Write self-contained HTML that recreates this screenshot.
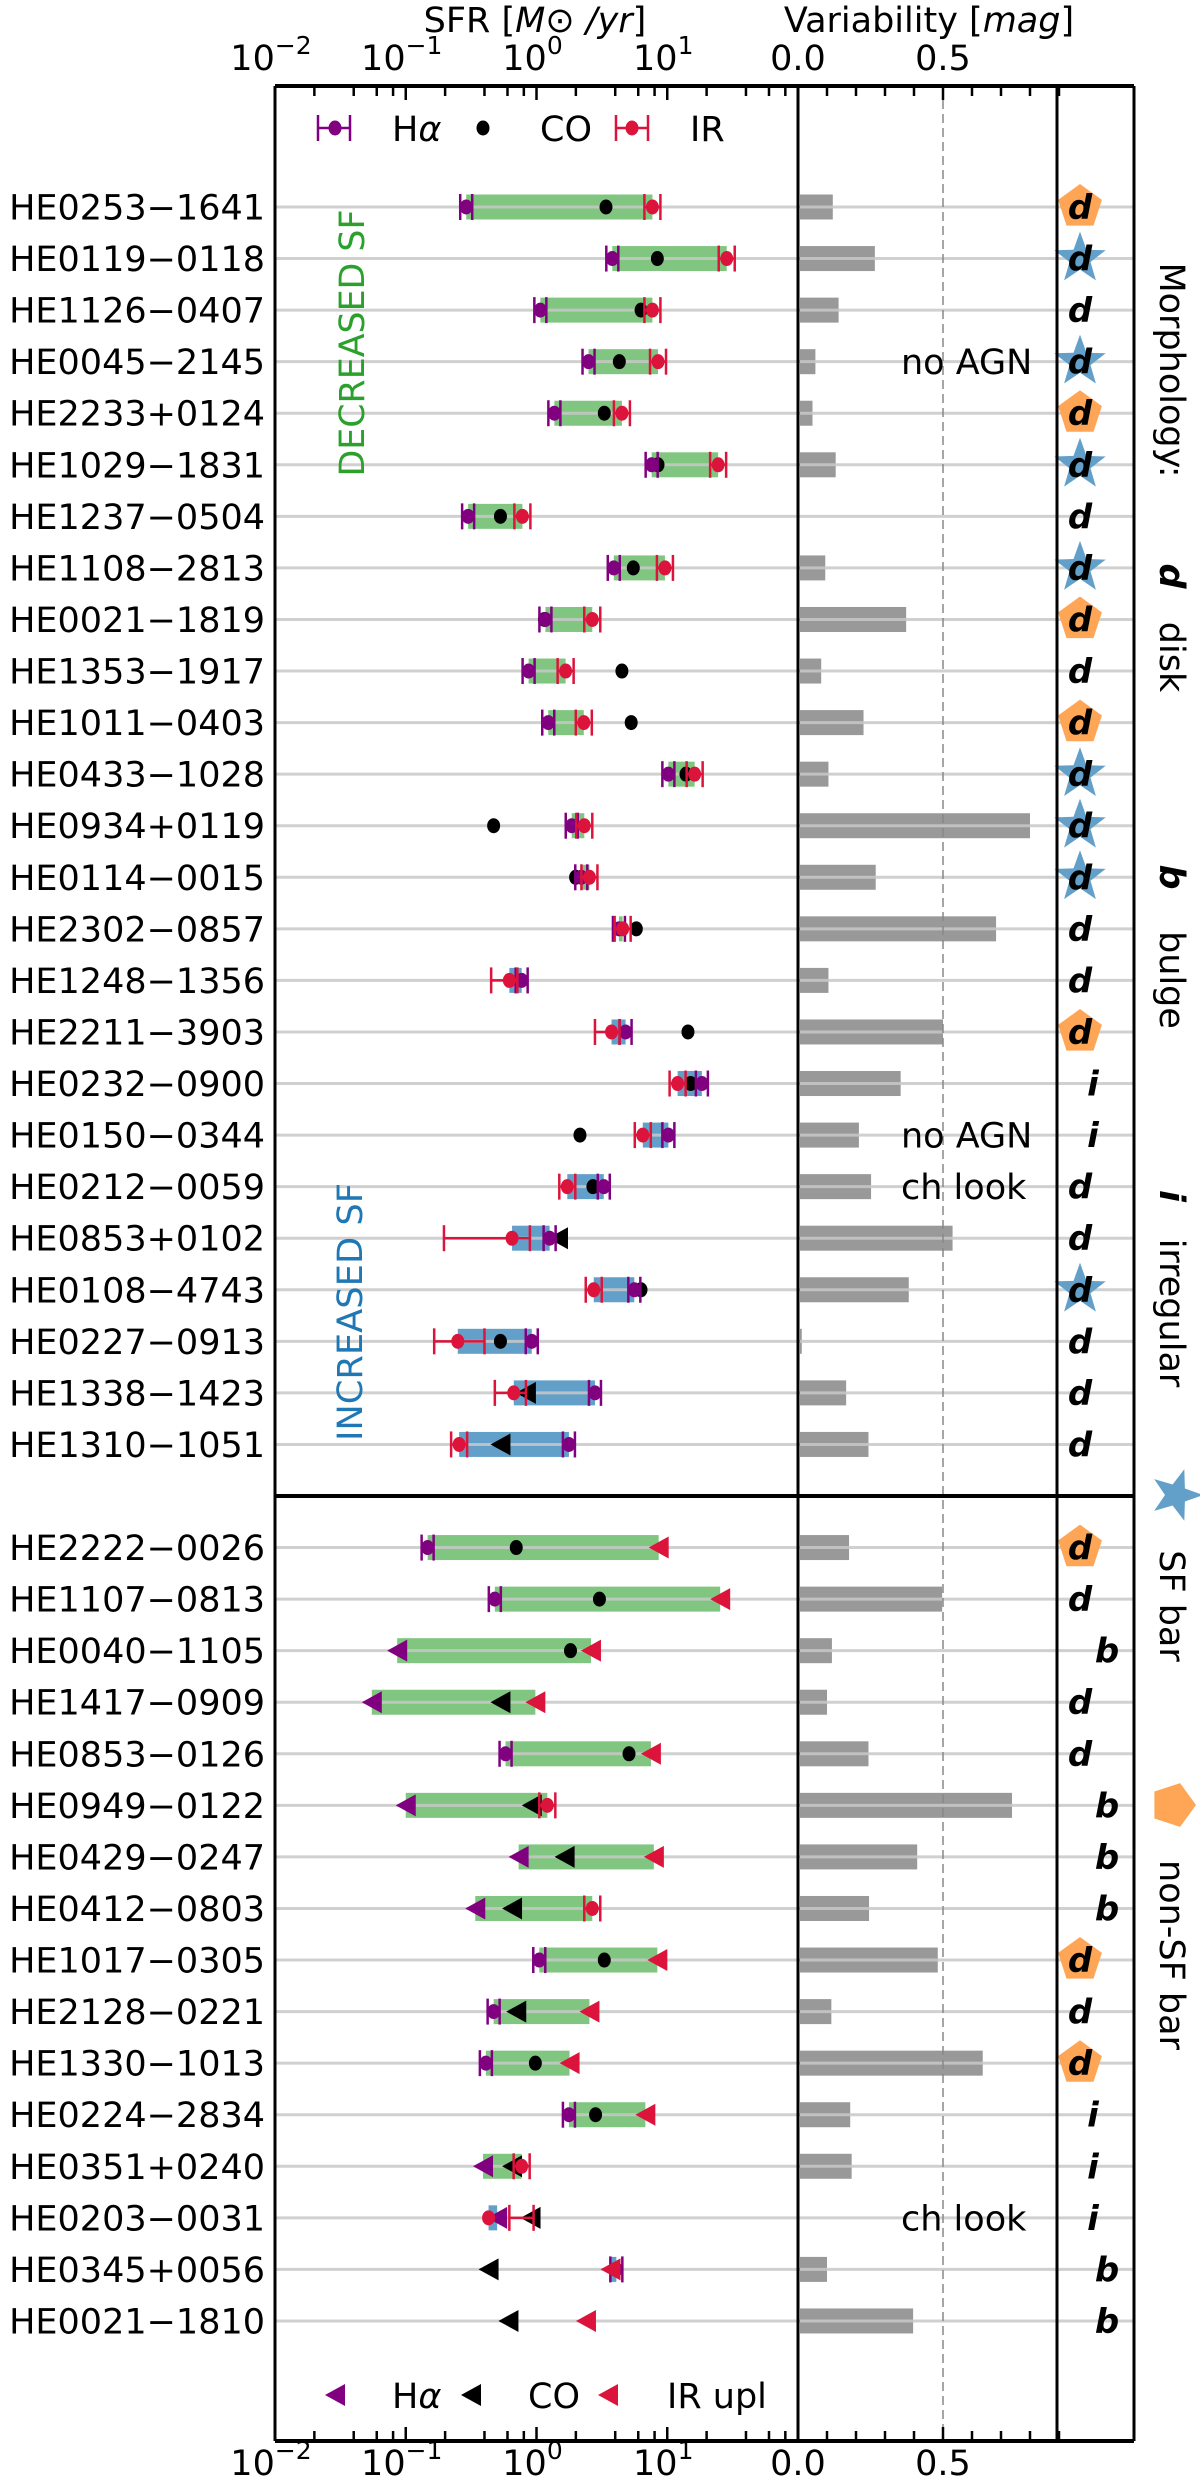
<!DOCTYPE html>
<html><head><meta charset="utf-8"><style>
html,body{margin:0;padding:0;background:#fff;}
svg{display:block;font-family:"DejaVu Sans","Liberation Sans",sans-serif;}
</style></head><body>
<svg id="chart" width="1200" height="2483" viewBox="0 0 1200 2483" xmlns="http://www.w3.org/2000/svg">
<g id="layer-boxes"></g>
<g id="layer-bars"></g>
<g id="layer-grid"></g>
<g id="layer-marks"></g>
<g id="layer-morph"></g>
<g id="layer-axes"></g>
<g id="layer-text"></g>
</svg>
<script>
const names = ["HE0253−1641","HE0119−0118","HE1126−0407","HE0045−2145","HE2233+0124","HE1029−1831","HE1237−0504","HE1108−2813","HE0021−1819","HE1353−1917","HE1011−0403","HE0433−1028","HE0934+0119","HE0114−0015","HE2302−0857","HE1248−1356","HE2211−3903","HE0232−0900","HE0150−0344","HE0212−0059","HE0853+0102","HE0108−4743","HE0227−0913","HE1338−1423","HE1310−1051",
"HE2222−0026","HE1107−0813","HE0040−1105","HE1417−0909","HE0853−0126","HE0949−0122","HE0429−0247","HE0412−0803","HE1017−0305","HE2128−0221","HE1330−1013","HE0224−2834","HE0351+0240","HE0203−0031","HE0345+0056","HE0021−1810"];
const haSFR = [0.29,3.8,1.07,2.5,1.37,7.6,0.30,3.9,1.17,0.87,1.23,10.2,1.86,2.2,4.27,0.77,4.8,18.4,10.2,3.27,1.26,5.6,0.92,2.8,1.77,
0.147,0.48,0.086,0.055,0.58,0.1,0.73,0.34,1.05,0.47,0.41,1.77,0.39,0.50,4.08,null];
const haUpper = [0,0,0,0,0,0,0,0,0,0,0,0,0,0,0,0,0,0,0,0,0,0,0,0,0,
0,0,1,1,0,1,1,1,0,0,0,0,1,1,0,0];
const coSFR = [3.4,8.4,6.3,4.3,3.3,8.5,0.53,5.5,1.15,4.5,5.3,13.9,0.47,1.99,5.8,null,14.4,15.1,2.15,2.7,1.46,6.3,0.53,0.83,0.53,
0.70,3.03,1.82,0.53,5.1,0.92,1.64,0.65,3.3,0.70,0.98,2.83,0.65,0.90,0.43,0.61];
const coUpper = [0,0,0,0,0,0,0,0,0,0,0,0,0,0,0,0,0,0,0,0,1,0,0,1,1,
0,0,0,1,0,1,1,1,0,1,0,0,1,1,1,1];
const irSFR = [7.7,28.5,7.7,8.5,4.5,24.5,0.78,9.6,2.67,1.67,2.3,16.2,2.32,2.54,4.56,0.62,3.75,12.0,6.5,1.72,0.65,2.74,0.25,0.67,0.256,
8.6,25.4,2.61,0.98,7.5,1.21,7.9,2.67,8.4,2.54,1.79,6.8,0.77,0.43,3.68,2.39];
const irUpper = [0,0,0,0,0,0,0,0,0,0,0,0,0,0,0,0,0,0,0,0,0,0,0,0,0,
1,1,1,1,1,0,1,0,1,1,1,1,0,0,1,1];
const irErrLow = {15:0.45,16:2.8,20:0.196,22:0.165,23:0.48,31:0.83,38:0.62,39:0.26};
const irErrHigh = {20:0.89,22:0.40,23:0.83,31:1.73,38:0.95,39:0.46};
const variability = [0.12,0.265,0.14,0.06,0.05,0.13,null,0.094,0.373,0.08,0.226,0.105,0.80,0.268,0.683,0.105,0.50,0.354,0.21,0.252,0.533,0.382,0.013,0.166,0.243,
0.176,0.497,0.117,0.10,0.243,0.738,0.411,0.245,0.482,0.115,0.637,0.18,0.185,null,0.10,0.397];
const morphType = ["d","d","d","d","d","d","d","d","d","d","d","d","d","d","d","d","d","i","i","d","d","d","d","d","d",
"d","d","b","d","d","b","b","b","d","d","d","i","i","i","b","b"];
const barType = ["p","s","","s","p","s","","s","p","","p","s","s","s","","","p","","","","","s","","","",
"p","","","","","","","","p","","p","","","","",""];
const sfrTicks = [-2,-1,0,1];
const varTicks = [0.0,0.5];
const notes = {3:"no AGN",18:"no AGN",19:"ch look",38:"ch look"};

const NS="http://www.w3.org/2000/svg";
const X0=275, XDIV=798, XM=1057, XR=1134, YT=86, YB=2441, DEC=130.75;
function sx(v){return X0+DEC*(Math.log10(v)+2);}
function vx(m){return XDIV+290*m;}
function rowY(i){return 207+51.56*(i<25?i:i+1);}
function mk(tag,attrs,parent){const e=document.createElementNS(NS,tag);for(const k in attrs)e.setAttribute(k,attrs[k]);parent.appendChild(e);return e;}
const gBox=document.getElementById('layer-boxes'),gBar=document.getElementById('layer-bars'),gGrid=document.getElementById('layer-grid'),gMark=document.getElementById('layer-marks'),gMorph=document.getElementById('layer-morph'),gAx=document.getElementById('layer-axes'),gTxt=document.getElementById('layer-text');
const PURPLE="#800080",RED="#dc143c",BLACK="#000";
function tri(x,y,col,parent,name){const p=mk('polygon',{points:`${x-10},${y} ${x+10},${y-11} ${x+10},${y+11}`,fill:col},parent);return p;}
function circ(x,y,col,parent,name){const c=mk('ellipse',{cx:x,cy:y,rx:6.5,ry:7.5,fill:col},parent);return c;}
function errbar(x1,x2,y,col,parent,name){const g=mk('g',{stroke:col,'stroke-width':2.5},parent);mk('line',{x1:x1,x2:x2,y1:y,y2:y},g);mk('line',{x1:x1,x2:x1,y1:y-13,y2:y+13},g);mk('line',{x1:x2,x2:x2,y1:y-13,y2:y+13},g);}
function star(cx,cy,R,r,rot,col,parent,name){let pts=[];for(let k=0;k<10;k++){const a=(-90+rot+k*36)*Math.PI/180;const rr=k%2?r:R;pts.push((cx+rr*Math.cos(a)).toFixed(1)+','+(cy+rr*Math.sin(a)).toFixed(1));}const p=mk('polygon',{points:pts.join(' '),fill:col},parent);}
function pent(cx,cy,R,rot,col,parent,name){let pts=[];for(let k=0;k<5;k++){const a=(-90+rot+k*72)*Math.PI/180;pts.push((cx+R*Math.cos(a)).toFixed(1)+','+(cy+R*Math.sin(a)).toFixed(1));}const p=mk('polygon',{points:pts.join(' '),fill:col},parent);}
function txt(x,y,s,attrs,parent,name){const t=mk('text',Object.assign({x:x,y:y},attrs),parent);t.textContent=s;return t;}

names.forEach((nm,i)=>{
  const y=rowY(i);
  const ha=haSFR[i], ir=irSFR[i], co=coSFR[i];
  if(ha!=null && ir!=null){
    const a=sx(Math.min(ha,ir)), b=sx(Math.max(ha,ir));
    const r=mk('rect',{x:a,y:y-12.5,width:Math.max(b-a,2),height:25,fill:ir>=ha?"#80c680":"#62a0ca"},gBox);
    
    
  }
  if(variability[i]!=null){
    const r=mk('rect',{x:XDIV+2,y:y-12.5,width:vx(variability[i])-XDIV-2,height:25,fill:"#999999"},gBar);
    
    
  }
  const gl=mk('line',{x1:X0,x2:XR,y1:y,y2:y,stroke:"rgba(200,200,200,0.85)","stroke-width":3},gGrid);
  
  
  // CO
  if(co!=null){ if(coUpper[i]) tri(sx(co),y,BLACK,gMark,'co-upper-limit'); else circ(sx(co),y,BLACK,gMark,'co-point'); }
  // H-alpha
  if(ha!=null){ if(haUpper[i]) tri(sx(ha),y,PURPLE,gMark,'halpha-upper-limit'); else { errbar(sx(ha)-6,sx(ha)+6,y,PURPLE,gMark,'halpha-errorbar'); circ(sx(ha),y,PURPLE,gMark,'halpha-point'); } }
  // IR
  if(ir!=null){ if(irUpper[i]) tri(sx(ir),y,RED,gMark,'ir-upper-limit'); else {
    const lo=irErrLow[i]!=null?sx(irErrLow[i]):sx(ir)-8, hi=irErrHigh[i]!=null?sx(irErrHigh[i]):sx(ir)+8;
    errbar(lo,hi,y,RED,gMark,'ir-errorbar'); circ(sx(ir),y,RED,gMark,'ir-point'); } }
  // label
  txt(265,y+12.5,nm,{'text-anchor':'end','font-size':35,fill:'#000'},gTxt,'galaxy-label');
  // morphology
  if(barType[i]==='s') star(1080,y,27,11,0,"#62a0ca",gMorph,'sf-bar-marker');
  if(barType[i]==='p') pent(1080,y,23,0,"#ffa656",gMorph,'non-sf-bar-marker');
  const mx = morphType[i]==='b'?1107:(morphType[i]==='i'?1093:1080);
  txt(mx,y+12,morphType[i],{'text-anchor':'middle','font-size':34,'font-weight':'bold','font-style':'italic',fill:'#000'},gMorph,'morphology-letter');
  if(notes[i]) txt(901,y+12.5,notes[i],{'font-size':35,fill:'#000'},gTxt,'note-text');
});

// frames
function ln(x1,y1,x2,y2,w,name,extra){const l=mk('line',Object.assign({x1:x1,y1:y1,x2:x2,y2:y2,stroke:'#000','stroke-width':w},extra||{}),gAx);return l;}
ln(vx(0.5),YT,vx(0.5),YB,1.5,'variability-reference-line',{stroke:'#888','stroke-dasharray':'9,5'});
const sepY=rowY(24)+51.56;
ln(X0,sepY,XR,sepY,4,'group-separator');
ln(X0,YT,XR,YT,4,'frame-top');ln(X0,YB,XR,YB,4,'frame-bottom');
ln(X0,YT,X0,YB,3,'frame-left');ln(XR,YT,XR,YB,3,'frame-right');
ln(XDIV,YT,XDIV,YB,3,'panel-divider');ln(XM,YT,XM,YB,3,'morphology-divider');
// ticks
for(let d=-2; d<2; d++){
  for(const m of [1,2,4,6,8]){
    const x=sx(m*Math.pow(10,d)); const L=m===1?14:10;
    ln(x,YT,x,YT+L,2.5,'sfr-tick-top');ln(x,YB,x,YB-L,2.5,'sfr-tick-bottom');
  }
}
for(let k=1;k<=9;k++){const x=vx(k/10);const L=k===5?14:10;ln(x,YT,x,YT+L,2.5,'var-tick-top');ln(x,YB,x,YB-L,2.5,'var-tick-bottom');}
// tick labels
sfrTicks.forEach(p=>{
  [70,2475].forEach((yy,j)=>{
    const t=txt(sx(Math.pow(10,p))-4,yy,'10',{'text-anchor':'middle','font-size':35,fill:'#000'},gTxt,j?'sfr-tick-label-bottom':'sfr-tick-label-top');
    const ts=document.createElementNS(NS,'tspan');ts.setAttribute('dy','-16');ts.setAttribute('font-size','25');ts.textContent=(p<0?'−':'')+Math.abs(p);t.appendChild(ts);
  });
});
varTicks.forEach(v=>{[70,2475].forEach((yy,j)=>txt(vx(v),yy,v.toFixed(1),{'text-anchor':'middle','font-size':35,fill:'#000'},gTxt,j?'var-tick-label-bottom':'var-tick-label-top'));});
// titles
(function(){const t=txt(535,32,'SFR [',{'text-anchor':'middle','font-size':35,fill:'#000'},gTxt,'sfr-axis-title');
const a=document.createElementNS(NS,'tspan');a.setAttribute('font-style','italic');a.textContent='M⊙ /yr';t.appendChild(a);const b=document.createElementNS(NS,'tspan');b.textContent=']';t.appendChild(b);
const v=txt(929,32,'Variability [',{'text-anchor':'middle','font-size':35,fill:'#000'},gTxt,'variability-axis-title');
const c=document.createElementNS(NS,'tspan');c.setAttribute('font-style','italic');c.textContent='mag';v.appendChild(c);const e=document.createElementNS(NS,'tspan');e.textContent=']';v.appendChild(e);})();
// group labels
txt(0,0,'DECREASED SF',{'text-anchor':'middle','font-size':35,fill:'#2ca02c',transform:'translate(364,343) rotate(-90)',textLength:267,lengthAdjust:'spacingAndGlyphs'},gTxt,'decreased-sf-label');
txt(0,0,'INCREASED SF',{'text-anchor':'middle','font-size':35,fill:'#1f77b4',transform:'translate(362,1312) rotate(-90)',textLength:258,lengthAdjust:'spacingAndGlyphs'},gTxt,'increased-sf-label');
// top legend
errbar(318,350,128,PURPLE,gTxt,'legend-halpha-errorbar');circ(335,128,PURPLE,gTxt,'legend-halpha-marker');
txt(392,141,'H',{'font-size':35,fill:'#000'},gTxt,'legend-halpha-text').innerHTML='H<tspan font-style="italic">α</tspan>';
circ(483,128,BLACK,gTxt,'legend-co-marker');txt(540,141,'CO',{'font-size':35,fill:'#000'},gTxt,'legend-co-text');
errbar(616,648,128,RED,gTxt,'legend-ir-errorbar');circ(632,128,RED,gTxt,'legend-ir-marker');txt(690,141,'IR',{'font-size':35,fill:'#000'},gTxt,'legend-ir-text');
// bottom legend
tri(335,2395,PURPLE,gTxt,'legend-halpha-upper');txt(392,2408,'H',{'font-size':35,fill:'#000'},gTxt,'legend-halpha-upper-text').innerHTML='H<tspan font-style="italic">α</tspan>';
tri(471,2395,BLACK,gTxt,'legend-co-upper');txt(528,2408,'CO',{'font-size':35,fill:'#000'},gTxt,'legend-co-upper-text');
tri(608,2395,RED,gTxt,'legend-ir-upper');txt(667,2408,'IR upl',{'font-size':35,fill:'#000'},gTxt,'legend-ir-upper-text');
// morphology legend (rotated)
function rtxt(y,s,attrs,name){return txt(0,0,s,Object.assign({'text-anchor':'middle','font-size':35,fill:'#000',transform:`translate(1160,${y}) rotate(90)`},attrs||{}),gTxt,name);}
rtxt(370,'Morphology:',{},'morphology-title');
rtxt(576,'d',{'font-weight':'bold','font-style':'italic'},'legend-d');rtxt(657,'disk',{},'legend-disk');
rtxt(877,'b',{'font-weight':'bold','font-style':'italic'},'legend-b');rtxt(980,'bulge',{},'legend-bulge');
rtxt(1196,'i',{'font-weight':'bold','font-style':'italic'},'legend-i');rtxt(1313,'irregular',{},'legend-irregular');
star(1176,1495,27,11,90,"#62a0ca",gTxt,'legend-sf-bar-star');rtxt(1606,'SF bar',{},'legend-sf-bar-text');
pent(1173,1805,23,90,"#ffa656",gTxt,'legend-non-sf-bar-pentagon');rtxt(1955,'non-SF bar',{},'legend-non-sf-bar-text');
</script>
</body></html>
